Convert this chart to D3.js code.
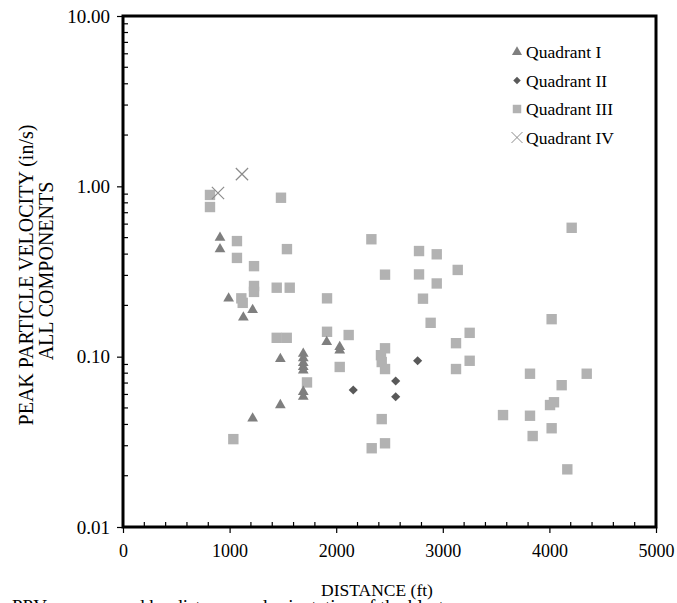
<!DOCTYPE html>
<html>
<head>
<meta charset="utf-8">
<script src="https://cdn.jsdelivr.net/npm/d3@7"></script>
<style>
body { margin: 0; background: #fff; overflow: hidden; }
text { font-family: "Liberation Serif", "Times New Roman", serif; }
</style>
</head>
<body>
<script>
var width = 677;
var height = 603;

// [distance ft, ppv in/s]
var quadrantI = [
  [910, 0.50], [910, 0.428], [991, 0.22], [1129, 0.170], [1216, 0.188],
  [1911, 0.122], [2033, 0.114], [2033, 0.109], [1476, 0.097],
  [1691, 0.104], [1691, 0.098], [1691, 0.092], [1691, 0.087], [1691, 0.083],
  [1691, 0.0622], [1691, 0.0582], [1476, 0.052], [1216, 0.0434]
];
var quadrantII = [
  [2764, 0.0946], [2558, 0.072], [2160, 0.0637], [2558, 0.0582]
];
var quadrantIII = [
  [816, 0.89], [816, 0.756], [1482, 0.857], [1069, 0.477], [1069, 0.38],
  [1229, 0.34], [1229, 0.26], [1229, 0.24], [1110, 0.22], [1123, 0.207],
  [1442, 0.254], [1564, 0.254], [1538, 0.428], [1914, 0.22], [1914, 0.14],
  [1442, 0.129], [1536, 0.129], [2117, 0.134], [2033, 0.087], [1726, 0.0706],
  [2330, 0.489], [2458, 0.303], [2458, 0.112], [2420, 0.102], [2427, 0.093],
  [2458, 0.0846], [1035, 0.0328], [2427, 0.043], [2333, 0.029], [2458, 0.031],
  [2886, 0.158], [4209, 0.571], [2777, 0.417], [2943, 0.399], [2777, 0.304],
  [3140, 0.323], [2943, 0.269], [2814, 0.219], [4021, 0.166], [3252, 0.138],
  [3124, 0.120], [3252, 0.0946], [3124, 0.0846], [3818, 0.0794], [4350, 0.0794],
  [4115, 0.068], [4006, 0.052], [4043, 0.054], [3565, 0.0454], [3818, 0.045],
  [4021, 0.038], [3843, 0.0342], [4168, 0.0218]
];
var quadrantIV = [
  [891, 0.914], [1116, 1.18]
];

var legendNames = ["Quadrant I", "Quadrant II", "Quadrant III", "Quadrant IV"];
var xTicks = [0, 1000, 2000, 3000, 4000, 5000];
var yTicks = [0.01, 0.1, 1, 10];

var svg = d3.select("body")
.append("svg")
.attr("width", width)
.attr("height", height);

var plotLeft = 123, plotRight = 656, plotTop = 16, plotBottom = 527;

var x = d3.scaleLinear().domain([0, 5000]).range([plotLeft, plotRight]);
var y = d3.scaleLog().domain([0.01, 10]).range([plotBottom, plotTop]);

// minor ticks inside
var xMinor = d3.range(0, 5001, 200).filter(function(d){ return d % 1000 != 0; });
svg.selectAll(".xminor")
.data(xMinor)
.enter()
.append("line")
.attr("x1", function(d){ return x(d); })
.attr("x2", function(d){ return x(d); })
.attr("y1", plotBottom)
.attr("y2", plotBottom - 5)
.attr("stroke", "black")
.attr("stroke-width", 1.2);

var yMinor = [];
[0.01, 0.1, 1].forEach(function(b){
  for (var k = 2; k < 10; k++) yMinor.push(b * k);
});
svg.selectAll(".yminor")
.data(yMinor)
.enter()
.append("line")
.attr("x1", plotLeft)
.attr("x2", plotLeft + 5)
.attr("y1", function(d){ return y(d); })
.attr("y2", function(d){ return y(d); })
.attr("stroke", "black")
.attr("stroke-width", 1.2);

// axes
var xAxis = d3.axisBottom(x).tickValues(xTicks).tickFormat(d3.format("d")).tickSize(6).tickPadding(11);
var gx = svg.append("g")
.attr("transform", "translate(0," + plotBottom + ")")
.call(xAxis);
gx.select(".domain").remove();
gx.selectAll("line").attr("stroke-width", 1.2);
gx.selectAll("text").attr("font-size", "18px").attr("fill", "black")
.attr("font-family", "Liberation Serif, serif");

var yAxis = d3.axisLeft(y).tickValues(yTicks).tickFormat(d3.format(".2f")).tickSize(6).tickPadding(7);
var gy = svg.append("g")
.attr("transform", "translate(" + plotLeft + ",0)")
.call(yAxis);
gy.select(".domain").remove();
gy.selectAll("line").attr("stroke-width", 1.2);
gy.selectAll("text").attr("font-size", "19px").attr("fill", "black")
.attr("font-family", "Liberation Serif, serif");

// frame
svg.append("rect")
.attr("x", plotLeft)
.attr("y", plotTop)
.attr("width", plotRight - plotLeft)
.attr("height", plotBottom - plotTop)
.attr("fill", "none")
.attr("stroke", "black")
.attr("stroke-width", 3);

// markers
function drawSet(data, type, size, fill, stroke, rot) {
  svg.append("g")
  .selectAll("path")
  .data(data)
  .enter()
  .append("path")
  .attr("d", d3.symbol().type(type).size(size))
  .attr("transform", function(d){
    return "translate(" + x(d[0]) + "," + y(d[1]) + ") rotate(" + rot + ")";
  })
  .attr("fill", fill)
  .attr("stroke", stroke)
  .attr("stroke-width", stroke == "none" ? 0 : 1.2);
}

drawSet(quadrantIII, d3.symbolSquare, 108, "#b2b2b2", "none", 0);
drawSet(quadrantI, d3.symbolTriangle, 50, "#7f7f7f", "none", 0);
drawSet(quadrantII, d3.symbolSquare, 42, "#595959", "none", 45);
drawSet(quadrantIV, d3.symbolX, 100, "none", "#8c8c8c", 0);

// legend
var legendTypes = [
  [d3.symbolTriangle, 44, "#7f7f7f", "none", 0],
  [d3.symbolSquare, 28, "#595959", "none", 45],
  [d3.symbolSquare, 72, "#b2b2b2", "none", 0],
  [d3.symbolX, 80, "none", "#8c8c8c", 0]
];
var lg = svg.append("g");
lg.selectAll("path")
.data(legendTypes)
.enter()
.append("path")
.attr("d", function(d){ return d3.symbol().type(d[0]).size(d[1])(); })
.attr("transform", function(d, i){ return "translate(517," + (52 + i * 28.5) + ") rotate(" + d[4] + ")"; })
.attr("fill", function(d){ return d[2]; })
.attr("stroke", function(d){ return d[3]; })
.attr("stroke-width", 1);

lg.selectAll("text")
.data(legendNames)
.enter()
.append("text")
.attr("x", 526)
.attr("y", function(d, i){ return 52 + i * 28.5; })
.attr("dy", "0.35em")
.attr("font-size", "17.5px")
.attr("fill", "black")
.text(function(d){ return d; });

// axis titles
svg.append("text")
.attr("x", 377)
.attr("y", 596)
.attr("text-anchor", "middle")
.attr("font-size", "17.5px")
.attr("fill", "black")
.text("DISTANCE (ft)");

svg.append("text")
.attr("transform", "translate(33,275) rotate(-90)")
.attr("text-anchor", "middle")
.attr("font-size", "20px")
.attr("fill", "black")
.text("PEAK PARTICLE VELOCITY (in/s)");

svg.append("text")
.attr("transform", "translate(53,271) rotate(-90)")
.attr("text-anchor", "middle")
.attr("font-size", "20px")
.attr("fill", "black")
.text("ALL COMPONENTS");

// caption cut off at page bottom
svg.append("text")
.attr("x", 12)
.attr("y", 613)
.attr("font-size", "19px")
.attr("fill", "black")
.text("PPV as measured by distance and orientation of the blast");
</script>
</body>
</html>
